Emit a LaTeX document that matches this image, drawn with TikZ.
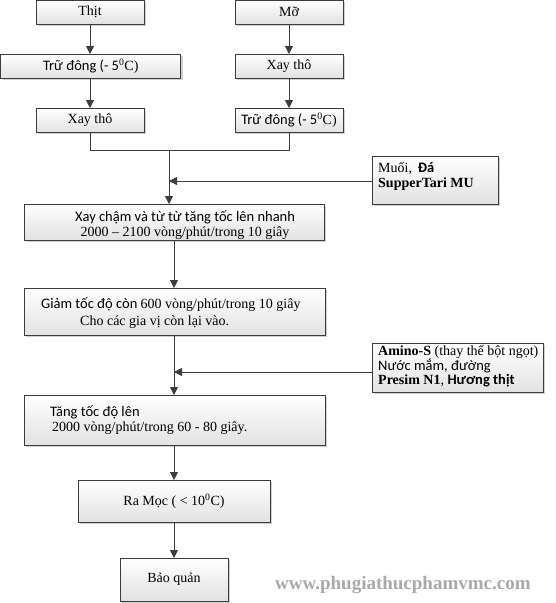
\documentclass[tikz,border=0pt]{standalone}
\usepackage{fontspec}
\setmainfont{Liberation Serif}
\newfontfamily\calib{Carlito}
\newcommand\clb{\calib\fontsize{14.5}{15}\selectfont}
\usetikzlibrary{arrows.meta,shadows}
\definecolor{lin}{HTML}{3C3C3C}
\definecolor{boxbot}{HTML}{E2E2E2}
\definecolor{wmc}{HTML}{A9A9A9}
\setlength{\lineskiplimit}{-20pt}
\begin{document}
\begin{tikzpicture}[x=1pt,y=-1pt,
 box/.style={draw=lin, line width=0.7pt, top color=white, bottom color=boxbot,
   inner sep=0pt, outer sep=0pt, font=\fontsize{14}{15}\selectfont,
   drop shadow={shadow xshift=1.8pt, shadow yshift=-1.8pt, fill=black, opacity=0.18}},
 arr/.style={draw=lin, line width=0.8pt, -{Triangle[length=8pt,width=8pt]}},
 ln/.style={draw=lin, line width=0.8pt},
 tx/.style={font=\fontsize{14}{15}\selectfont, inner sep=0pt},
]
\useasboundingbox (0,0) rectangle (555,603);

% boxes
\node[box, minimum width=108pt, minimum height=23.5pt] (thit) at (90,12.25) {Thịt};
\node[box, minimum width=108pt, minimum height=23.5pt] (mo) at (289,12.25) {Mỡ};
\node[box, minimum width=180pt, minimum height=24pt] (trudongL) at (90.75,66) {{\clb Trữ đông (- 5}\textsuperscript{0}C)};
\node[box, minimum width=108pt, minimum height=24pt] (xaythoR) at (289,66) {Xay thô};
\node[box, minimum width=108pt, minimum height=24pt] (xaythoL) at (90,120) {Xay thô};
\node[box, minimum width=108pt, minimum height=24pt] (trudongR) at (289,120) {{\clb Trữ đông (- 5}\textsuperscript{0}C)};
\node[box, minimum width=126pt, minimum height=48pt] (muoi) at (435,180) {};
\node[box, minimum width=300pt, minimum height=36pt] (xaycham) at (174,222) {};
\node[box, minimum width=301pt, minimum height=47pt] (giam) at (174.5,311.5) {};
\node[box, minimum width=171pt, minimum height=49pt] (amino) at (457.5,367.5) {};
\node[box, minimum width=301pt, minimum height=50pt] (tang) at (174.5,420) {};
\node[box, minimum width=192pt, minimum height=42pt] (ramoc) at (174,501) {Ra Mọc ( < 10\textsuperscript{0}C)};
\node[box, minimum width=108pt, minimum height=43pt] (baoquan) at (174,579.5) {Bảo quản};

% texts of the larger boxes
\node[tx, align=left, anchor=west] (muoiT) at (378,176) {Muối,\, {\clb\bfseries Đá}\\\textbf{SupperTari MU}};
\node[tx, align=center] (xaychamT) at (185,225) {{\clb Xay chậm và từ từ tăng tốc lên nhanh}\\2000 – 2100 vòng/phút/trong 10 giây};
\node[tx, align=left, anchor=west] (giamT) at (41,313) {{\clb Giảm tốc độ còn }600 vòng/phút/trong 10 giây\\[2pt]\hspace*{39pt}Cho các gia vị còn lại vào.};
\node[tx, font=\fontsize{14}{14.5}\selectfont, align=left, anchor=west] (aminoT) at (378,366.5) {\textbf{Amino-S} (thay thế bột ngọt)\\{\calib\fontsize{14.5}{14.5}\selectfont Nước mắm, đường}\\\textbf{Presim N1}, {\calib\fontsize{14.5}{14.5}\selectfont\bfseries Hương thịt}};
\node[tx, align=left, anchor=west] (tangT) at (50,420) {{\clb Tăng tốc độ lên}\\\hspace*{2pt}2000 vòng/phút/trong 60 - 80 giây.};

% watermark
\node[font=\fontsize{19}{19}\selectfont\bfseries, text=wmc, anchor=west, inner sep=0pt] (wm) at (275,585) {www.phugiathucphamvmc.com};

% connectors
\draw[arr] (thit.south) -- (thit.south |- trudongL.north);
\draw[arr] (trudongL.south -| thit.south) -- (xaythoL.north);
\draw[arr] (mo.south) -- (xaythoR.north);
\draw[arr] (xaythoR.south) -- (trudongR.north);

\coordinate (mj) at (169,150);
\coordinate (mi) at (169,181);
\draw[ln] (xaythoL.south) -- (xaythoL.south |- mj) -- (trudongR.south |- mj) -- (trudongR.south);
\draw[arr] (mj) -- (mj |- xaycham.north);
\draw[arr] (muoi.west |- mi) -- (mi);

\coordinate (gi) at (174,372);
\draw[arr] (xaycham.south) -- (xaycham.south |- giam.north);
\draw[arr] (gi |- giam.south) -- (gi |- tang.north);
\draw[arr] (amino.west |- gi) -- (gi);
\draw[arr] (gi |- tang.south) -- (ramoc.north);
\draw[arr] (ramoc.south) -- (baoquan.north);
\end{tikzpicture}
\end{document}
